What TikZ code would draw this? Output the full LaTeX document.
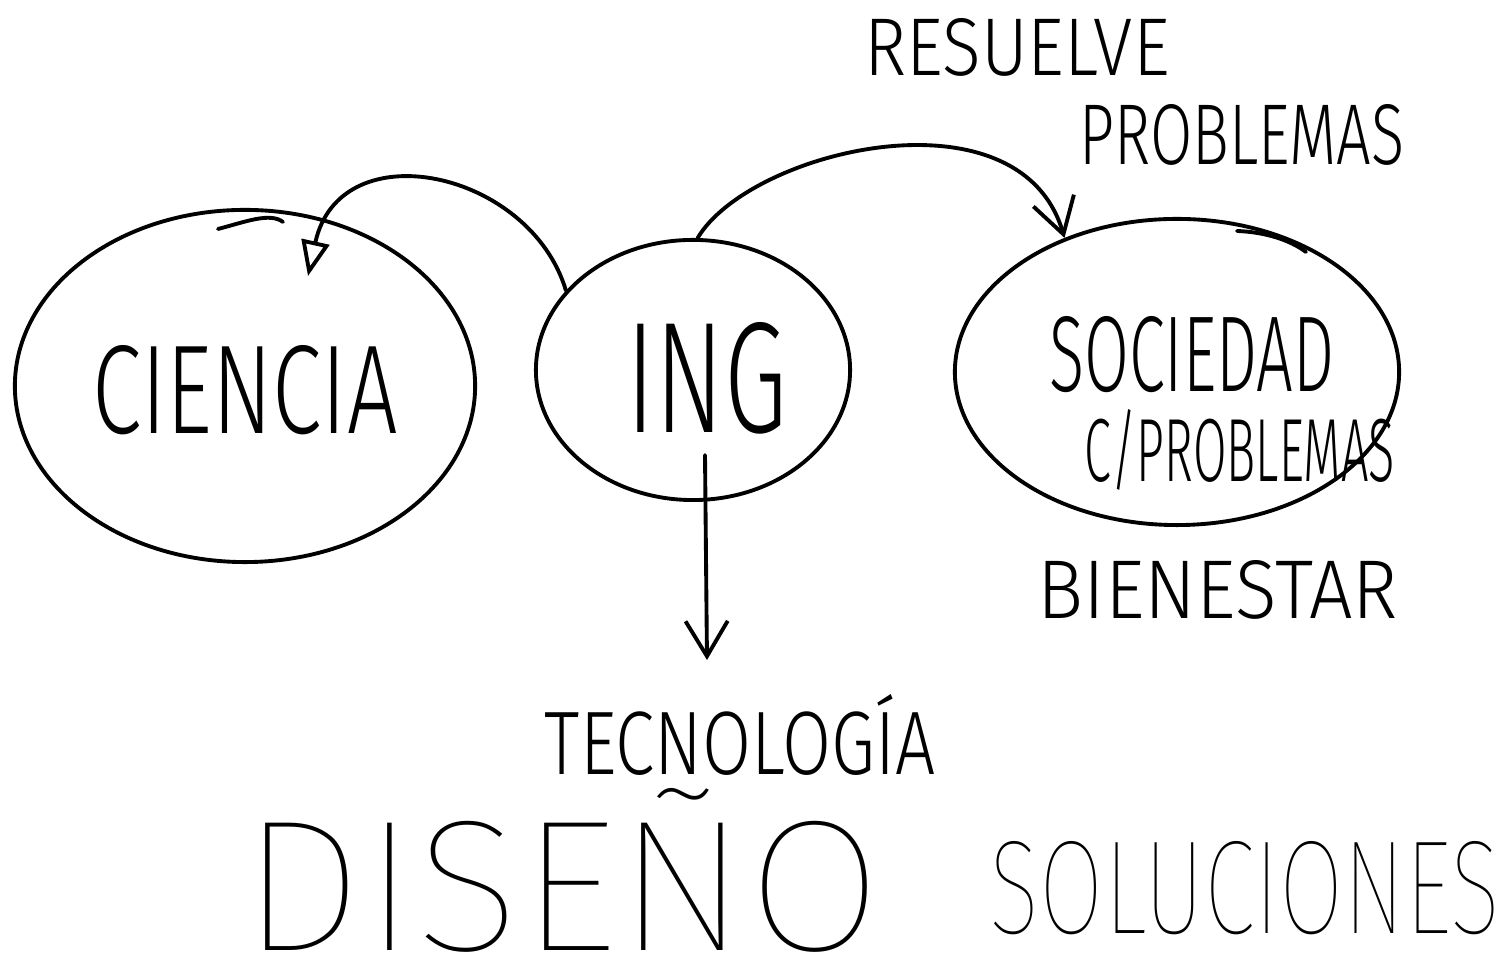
\documentclass[tikz,border=0pt]{standalone}
\usepackage{fontspec}
\newfontfamily\hand{Fira Sans Light}
\newfontfamily\handthin{Fira Sans Thin}
\usetikzlibrary{shapes.geometric,arrows.meta}
\newcommand\fitbox[3]{\resizebox{#1cm}{#2cm}{#3}}
\begin{document}
\begin{tikzpicture}[x=0.01cm,y=-0.01cm, line width=1.1pt, line cap=round, line join=round,
  bubble/.style={draw, ellipse, inner sep=0pt},
  txt/.style={inner sep=0pt, font=\hand},
  bigtxt/.style={inner sep=0pt, font=\handthin},
  conn/.style={draw, -{Straight Barb[length=10pt,width=12pt]}},
  stroke/.style={draw}]
\useasboundingbox (0,0) rectangle (1511,974);
% bubbles
\node[bubble, minimum width=4.60cm, minimum height=3.52cm] (ciencia) at (245,386) {};
\node[bubble, minimum width=3.14cm, minimum height=2.60cm] (ing) at (693,370) {};
\node[bubble, minimum width=4.44cm, minimum height=3.06cm] (sociedad) at (1177,372) {};
% texts
\node[txt] (tciencia) at (245,390) {\fitbox{3.05}{0.88}{CIENCIA}};
\node[txt] (ting) at (707,378) {\fitbox{1.60}{1.10}{ING}};
\node[txt] (tsoc) at (1192,355) {\fitbox{2.85}{0.75}{SOCIEDAD}};
\node[txt] (tcprob) at (1240,450) {\fitbox{3.10}{0.72}{C/PROBLEMAS}};
\node[txt] (tresuelve) at (1017,47) {\fitbox{3.05}{0.57}{RESUELVE}};
\node[txt] (tproblemas) at (1242,135) {\fitbox{3.25}{0.60}{PROBLEMAS}};
\node[txt] (tbien) at (1218,590) {\fitbox{3.60}{0.58}{BIENESTAR}};
\node[txt] (ttec) at (740,735) {\fitbox{3.90}{0.80}{TECNOLOGÍA}};
\node[bigtxt] (tdis) at (562,870) {\fitbox{6.40}{1.62}{DISEÑO}};
\node[bigtxt] (tsol) at (1245,888) {\fitbox{5.10}{0.92}{SOLUCIONES}};
% connectors
\coordinate (cTip) at (308,276);
\coordinate (ingIn) at (705,455);
\coordinate (tecTop) at (707,660);
\draw[-{Triangle[open,length=10pt,width=8pt]}] (ing.148) .. controls (530,170) and (340,130) .. (cTip);
\draw[conn] (ing.88) .. controls (750,150) and (1020,85) .. (sociedad.130);
\draw[conn] (ingIn) -- (tecTop);
% stray pen strokes
\path[stroke] (218,229) .. controls (245,222) and (270,212) .. (283,222);
\path[stroke] (1237,231) .. controls (1265,232) and (1290,240) .. (1306,252);
\end{tikzpicture}
\end{document}
